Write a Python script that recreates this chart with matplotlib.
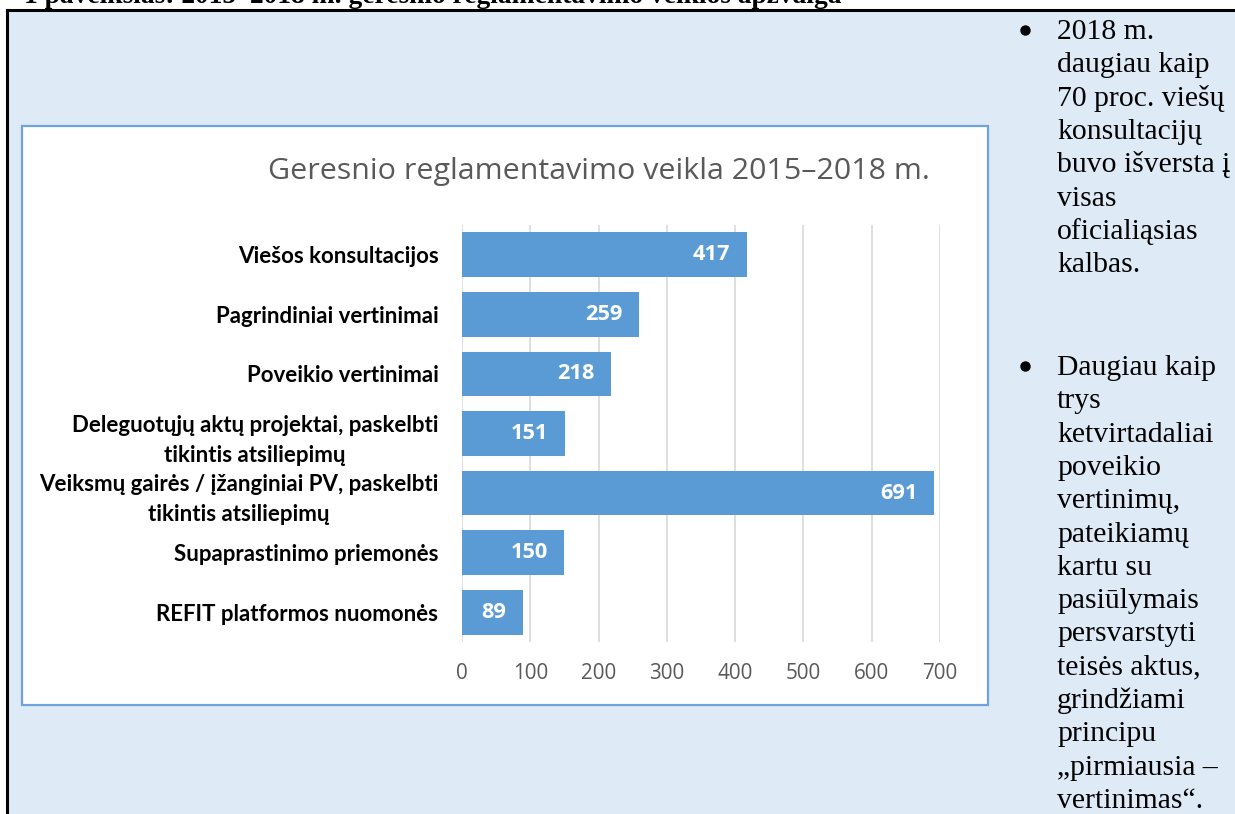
import matplotlib
matplotlib.use('Agg')
import matplotlib.pyplot as plt
from matplotlib.patches import Rectangle
from matplotlib.lines import Line2D

W, H = 1235, 814

categories = [
    "Viešos konsultacijos",
    "Pagrindiniai vertinimai",
    "Poveikio vertinimai",
    "Deleguotųjų aktų projektai, paskelbti\ntikintis atsiliepimų",
    "Veiksmų gairės / įžanginiai PV, paskelbti\ntikintis atsiliepimų",
    "Supaprastinimo priemonės",
    "REFIT platformos nuomonės",
]
values = [417, 259, 218, 151, 691, 150, 89]
x_ticks = [0, 100, 200, 300, 400, 500, 600, 700]

title = "Geresnio reglamentavimo veikla 2015–2018 m."
caption = "1 paveikslas: 2015–2018 m. geresnio reglamentavimo veiklos apžvalga"
note_1 = ["2018 m.", "daugiau kaip", "70 proc. viešų", "konsultacijų",
          "buvo išversta į", "visas", "oficialiąsias", "kalbas."]
note_2 = ["Daugiau kaip", "trys", "ketvirtadaliai", "poveikio", "vertinimų,",
          "pateikiamų", "kartu su", "pasiūlymais", "persvarstyti", "teisės aktus,",
          "grindžiami", "principu", "„pirmiausia –", "vertinimas“."]

bar_color = "#5B9BD5"
bg_blue = "#DEEAF6"


def fx(x):
    return x / W


def fy(y):
    return 1 - y / H


fig = plt.figure(figsize=(W / 100, H / 100), dpi=100)
fig.patch.set_facecolor("white")

# light blue panel and black frame
fig.patches.append(Rectangle((fx(7), 0), 1 - fx(7), fy(10), transform=fig.transFigure,
                             facecolor=bg_blue, edgecolor="none", zorder=0))
fig.lines.append(Line2D([fx(7), 1], [fy(10), fy(10)], transform=fig.transFigure,
                        color="black", lw=2.2))
fig.lines.append(Line2D([fx(7), fx(7)], [fy(10), 0], transform=fig.transFigure,
                        color="black", lw=2.2))

# white chart box
fig.patches.append(Rectangle((fx(22), fy(705)), fx(988) - fx(22), fy(126) - fy(705),
                             transform=fig.transFigure, facecolor="white",
                             edgecolor="#6FA3DA", lw=1.6, zorder=1))

fig.text(fx(24), fy(3), caption, family="Liberation Serif", weight="bold",
         fontsize=19.8, va="baseline", ha="left")

fig.text(fx(599), fy(172), title, family="Open Sans", fontsize=21.9, color="#595959",
         ha="center", va="center")

ax = fig.add_axes([fx(462), fy(642), fx(940) - fx(462), fy(225) - fy(642)])
ax.set_zorder(3)
ax.set_facecolor("none")
pos = list(range(len(categories)))
ax.barh(pos, values, height=0.75, color=bar_color, zorder=3)
ax.set_ylim(len(categories) - 0.5, -0.5)
ax.set_xlim(0, 700)
ax.set_xticks(x_ticks)
ax.set_yticks(pos)
ax.set_yticklabels(categories, family="Lato", weight="bold", fontsize=16,
                   multialignment="center", linespacing=1.55)
ax.tick_params(axis="y", length=0, pad=17)
ax.tick_params(axis="x", length=0, pad=15, labelcolor="#595959", labelsize=14.9)
for lab in ax.get_xticklabels():
    lab.set_family("Open Sans")
ax.grid(axis="x", color="#D9D9D9", lw=1.2, zorder=0)
for s in ax.spines.values():
    s.set_visible(False)

for i, v in enumerate(values):
    ax.annotate(str(v), xy=(v, i), xytext=(-12, 0), textcoords="offset points",
                ha="right", va="center", color="white", weight="bold",
                family="Open Sans", fontsize=15.7, zorder=4)

# right-hand notes, one line at a time
step = 33.3
for start, lines in [(39, note_1), (375, note_2)]:
    fig.lines.append(Line2D([fx(1025)], [fy(start - 9)], transform=fig.transFigure,
                            marker="o", markersize=6.5, color="black", lw=0))
    for k, line in enumerate(lines):
        fig.text(fx(1057), fy(start + k * step), line, family="Liberation Serif",
                 fontsize=21.3, ha="left", va="baseline")

fig.savefig("out.png", dpi=100)
